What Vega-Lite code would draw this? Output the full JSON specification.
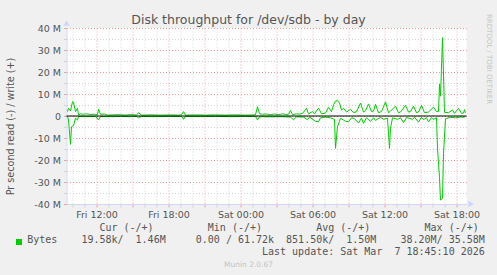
{
"$schema":"https://vega.github.io/schema/vega-lite/v6.json",
"width":400,"height":176,
"autosize":{"type":"none"},
"padding":{"left":66.5,"top":28,"right":30.5,"bottom":71},
"background":"#f0f0f0",
"view":{"fill":"#ffffff","stroke":null},
"config":{"font":"DejaVu Sans"},
"data":{"values":[
{"t":"2026-03-06T09:35","s":"w","v":2.0},{"t":"2026-03-06T09:40","s":"w","v":3.5},{"t":"2026-03-06T09:50","s":"w","v":2.3},{"t":"2026-03-06T10:00","s":"w","v":6.5},{"t":"2026-03-06T10:05","s":"w","v":6.2},{"t":"2026-03-06T10:15","s":"w","v":2.0},{"t":"2026-03-06T10:25","s":"w","v":3.5},{"t":"2026-03-06T10:30","s":"w","v":0.5},{"t":"2026-03-06T10:40","s":"w","v":1.0},{"t":"2026-03-06T10:55","s":"w","v":0.8},{"t":"2026-03-06T11:10","s":"w","v":1.0},{"t":"2026-03-06T11:30","s":"w","v":0.7},{"t":"2026-03-06T11:50","s":"w","v":0.8},{"t":"2026-03-06T12:05","s":"w","v":0.6},{"t":"2026-03-06T12:10","s":"w","v":3.0},{"t":"2026-03-06T12:20","s":"w","v":0.8},{"t":"2026-03-06T12:40","s":"w","v":0.9},{"t":"2026-03-06T12:55","s":"w","v":0.4},{"t":"2026-03-06T13:20","s":"w","v":0.5},{"t":"2026-03-06T13:50","s":"w","v":0.6},{"t":"2026-03-06T14:25","s":"w","v":0.4},{"t":"2026-03-06T14:55","s":"w","v":0.7},{"t":"2026-03-06T15:20","s":"w","v":0.4},{"t":"2026-03-06T15:30","s":"w","v":1.5},{"t":"2026-03-06T15:45","s":"w","v":0.4},{"t":"2026-03-06T16:30","s":"w","v":0.5},{"t":"2026-03-06T17:20","s":"w","v":0.4},{"t":"2026-03-06T18:10","s":"w","v":0.5},{"t":"2026-03-06T18:50","s":"w","v":0.4},{"t":"2026-03-06T19:05","s":"w","v":0.5},{"t":"2026-03-06T19:15","s":"w","v":2.0},{"t":"2026-03-06T19:25","s":"w","v":0.4},{"t":"2026-03-06T20:15","s":"w","v":0.5},{"t":"2026-03-06T21:05","s":"w","v":0.4},{"t":"2026-03-06T21:55","s":"w","v":0.5},{"t":"2026-03-06T22:45","s":"w","v":0.4},{"t":"2026-03-06T23:35","s":"w","v":0.5},
{"t":"2026-03-07T00:25","s":"w","v":0.4},{"t":"2026-03-07T01:05","s":"w","v":0.5},{"t":"2026-03-07T01:15","s":"w","v":0.6},{"t":"2026-03-07T01:25","s":"w","v":4.2},{"t":"2026-03-07T01:35","s":"w","v":1.0},{"t":"2026-03-07T01:50","s":"w","v":0.8},{"t":"2026-03-07T02:10","s":"w","v":0.9},{"t":"2026-03-07T02:30","s":"w","v":0.6},{"t":"2026-03-07T02:50","s":"w","v":0.9},{"t":"2026-03-07T03:10","s":"w","v":0.6},{"t":"2026-03-07T03:30","s":"w","v":1.0},{"t":"2026-03-07T03:45","s":"w","v":0.7},{"t":"2026-03-07T04:00","s":"w","v":0.8},{"t":"2026-03-07T04:10","s":"w","v":2.5},{"t":"2026-03-07T04:20","s":"w","v":0.6},{"t":"2026-03-07T04:40","s":"w","v":1.0},{"t":"2026-03-07T04:55","s":"w","v":0.8},{"t":"2026-03-07T05:10","s":"w","v":1.2},{"t":"2026-03-07T05:30","s":"w","v":3.5},{"t":"2026-03-07T05:40","s":"w","v":1.0},{"t":"2026-03-07T06:00","s":"w","v":2.0},{"t":"2026-03-07T06:10","s":"w","v":1.0},{"t":"2026-03-07T06:30","s":"w","v":3.6},{"t":"2026-03-07T06:45","s":"w","v":1.0},{"t":"2026-03-07T07:05","s":"w","v":1.3},{"t":"2026-03-07T07:20","s":"w","v":4.0},{"t":"2026-03-07T07:35","s":"w","v":2.0},{"t":"2026-03-07T07:45","s":"w","v":5.1},{"t":"2026-03-07T07:55","s":"w","v":6.8},{"t":"2026-03-07T08:05","s":"w","v":7.0},{"t":"2026-03-07T08:15","s":"w","v":5.9},{"t":"2026-03-07T08:25","s":"w","v":2.7},{"t":"2026-03-07T08:35","s":"w","v":3.5},{"t":"2026-03-07T08:50","s":"w","v":1.8},{"t":"2026-03-07T09:10","s":"w","v":3.0},{"t":"2026-03-07T09:25","s":"w","v":1.5},{"t":"2026-03-07T09:40","s":"w","v":2.0},{"t":"2026-03-07T10:00","s":"w","v":5.9},{"t":"2026-03-07T10:15","s":"w","v":1.8},{"t":"2026-03-07T10:25","s":"w","v":2.5},{"t":"2026-03-07T10:40","s":"w","v":5.5},{"t":"2026-03-07T10:55","s":"w","v":2.0},{"t":"2026-03-07T11:05","s":"w","v":2.2},{"t":"2026-03-07T11:15","s":"w","v":5.3},{"t":"2026-03-07T11:30","s":"w","v":1.5},{"t":"2026-03-07T11:45","s":"w","v":2.0},{"t":"2026-03-07T12:05","s":"w","v":6.4},{"t":"2026-03-07T12:20","s":"w","v":1.5},{"t":"2026-03-07T12:30","s":"w","v":2.2},{"t":"2026-03-07T12:55","s":"w","v":4.5},{"t":"2026-03-07T13:10","s":"w","v":1.5},{"t":"2026-03-07T13:20","s":"w","v":1.8},{"t":"2026-03-07T13:45","s":"w","v":4.8},{"t":"2026-03-07T14:00","s":"w","v":1.8},{"t":"2026-03-07T14:10","s":"w","v":2.0},{"t":"2026-03-07T14:25","s":"w","v":4.5},{"t":"2026-03-07T14:40","s":"w","v":1.5},{"t":"2026-03-07T14:50","s":"w","v":1.8},{"t":"2026-03-07T15:05","s":"w","v":4.8},{"t":"2026-03-07T15:20","s":"w","v":1.5},{"t":"2026-03-07T15:40","s":"w","v":1.8},{"t":"2026-03-07T16:05","s":"w","v":4.0},{"t":"2026-03-07T16:20","s":"w","v":2.0},{"t":"2026-03-07T16:30","s":"w","v":2.0},{"t":"2026-03-07T16:35","s":"w","v":14.4},{"t":"2026-03-07T16:40","s":"w","v":9.0},{"t":"2026-03-07T16:50","s":"w","v":35.58},{"t":"2026-03-07T17:00","s":"w","v":1.7},{"t":"2026-03-07T17:20","s":"w","v":1.5},{"t":"2026-03-07T17:40","s":"w","v":2.7},{"t":"2026-03-07T17:50","s":"w","v":1.2},{"t":"2026-03-07T18:10","s":"w","v":3.5},{"t":"2026-03-07T18:25","s":"w","v":1.2},{"t":"2026-03-07T18:35","s":"w","v":1.3},{"t":"2026-03-07T18:40","s":"w","v":2.9},{"t":"2026-03-07T18:45","s":"w","v":1.46},
{"t":"2026-03-06T09:35","s":"r","v":0},{"t":"2026-03-06T09:40","s":"r","v":-1.8},{"t":"2026-03-06T09:50","s":"r","v":-12.9},{"t":"2026-03-06T09:55","s":"r","v":-4.9},{"t":"2026-03-06T10:05","s":"r","v":-4.4},{"t":"2026-03-06T10:15","s":"r","v":-1.0},{"t":"2026-03-06T10:25","s":"r","v":-1.8},{"t":"2026-03-06T10:30","s":"r","v":-0.2},{"t":"2026-03-06T11:05","s":"r","v":-0.3},{"t":"2026-03-06T11:55","s":"r","v":-0.2},{"t":"2026-03-06T12:10","s":"r","v":-1.8},{"t":"2026-03-06T12:20","s":"r","v":-0.2},{"t":"2026-03-06T13:10","s":"r","v":-0.3},{"t":"2026-03-06T14:00","s":"r","v":-0.2},{"t":"2026-03-06T14:50","s":"r","v":-0.3},{"t":"2026-03-06T15:20","s":"r","v":-0.2},{"t":"2026-03-06T15:30","s":"r","v":-0.8},{"t":"2026-03-06T15:45","s":"r","v":-0.2},{"t":"2026-03-06T16:55","s":"r","v":-0.3},{"t":"2026-03-06T18:10","s":"r","v":-0.2},{"t":"2026-03-06T19:05","s":"r","v":-0.2},{"t":"2026-03-06T19:15","s":"r","v":-1.5},{"t":"2026-03-06T19:25","s":"r","v":-0.2},{"t":"2026-03-06T20:40","s":"r","v":-0.3},{"t":"2026-03-06T21:55","s":"r","v":-0.2},{"t":"2026-03-06T23:10","s":"r","v":-0.3},
{"t":"2026-03-07T00:25","s":"r","v":-0.2},{"t":"2026-03-07T01:15","s":"r","v":-0.2},{"t":"2026-03-07T01:25","s":"r","v":-1.8},{"t":"2026-03-07T01:35","s":"r","v":-0.3},{"t":"2026-03-07T02:30","s":"r","v":-0.4},{"t":"2026-03-07T03:20","s":"r","v":-0.3},{"t":"2026-03-07T04:10","s":"r","v":-0.5},{"t":"2026-03-07T04:25","s":"r","v":-1.7},{"t":"2026-03-07T04:40","s":"r","v":-0.4},{"t":"2026-03-07T05:15","s":"r","v":-0.5},{"t":"2026-03-07T05:35","s":"r","v":-1.7},{"t":"2026-03-07T05:45","s":"r","v":-0.5},{"t":"2026-03-07T06:15","s":"r","v":-2.4},{"t":"2026-03-07T06:30","s":"r","v":-2.6},{"t":"2026-03-07T06:40","s":"r","v":-0.8},{"t":"2026-03-07T07:05","s":"r","v":-0.6},{"t":"2026-03-07T07:30","s":"r","v":-0.8},{"t":"2026-03-07T07:50","s":"r","v":-1.5},{"t":"2026-03-07T07:55","s":"r","v":-14.7},{"t":"2026-03-07T08:05","s":"r","v":-4.8},{"t":"2026-03-07T08:10","s":"r","v":-3.6},{"t":"2026-03-07T08:20","s":"r","v":-1.0},{"t":"2026-03-07T08:45","s":"r","v":-2.4},{"t":"2026-03-07T09:00","s":"r","v":-2.6},{"t":"2026-03-07T09:15","s":"r","v":-0.8},{"t":"2026-03-07T09:30","s":"r","v":-1.2},{"t":"2026-03-07T09:50","s":"r","v":-3.2},{"t":"2026-03-07T10:05","s":"r","v":-1.0},{"t":"2026-03-07T10:15","s":"r","v":-3.3},{"t":"2026-03-07T10:30","s":"r","v":-0.8},{"t":"2026-03-07T10:50","s":"r","v":-2.5},{"t":"2026-03-07T11:05","s":"r","v":-0.8},{"t":"2026-03-07T11:15","s":"r","v":-2.0},{"t":"2026-03-07T11:40","s":"r","v":-0.6},{"t":"2026-03-07T11:55","s":"r","v":-1.5},{"t":"2026-03-07T12:15","s":"r","v":-1.0},{"t":"2026-03-07T12:25","s":"r","v":-14.7},{"t":"2026-03-07T12:30","s":"r","v":-5.6},{"t":"2026-03-07T12:40","s":"r","v":-0.8},{"t":"2026-03-07T13:05","s":"r","v":-1.5},{"t":"2026-03-07T13:20","s":"r","v":-0.8},{"t":"2026-03-07T13:35","s":"r","v":-3.0},{"t":"2026-03-07T13:50","s":"r","v":-0.7},{"t":"2026-03-07T14:20","s":"r","v":-1.5},{"t":"2026-03-07T14:30","s":"r","v":-0.6},{"t":"2026-03-07T14:50","s":"r","v":-2.8},{"t":"2026-03-07T15:05","s":"r","v":-0.6},{"t":"2026-03-07T15:15","s":"r","v":-1.6},{"t":"2026-03-07T15:30","s":"r","v":-0.8},{"t":"2026-03-07T15:40","s":"r","v":-2.7},{"t":"2026-03-07T15:55","s":"r","v":-0.7},{"t":"2026-03-07T16:05","s":"r","v":-1.5},{"t":"2026-03-07T16:20","s":"r","v":-0.8},{"t":"2026-03-07T16:25","s":"r","v":-14.7},{"t":"2026-03-07T16:35","s":"r","v":-28},{"t":"2026-03-07T16:40","s":"r","v":-38.2},{"t":"2026-03-07T16:50","s":"r","v":-37.4},{"t":"2026-03-07T16:55","s":"r","v":-17},{"t":"2026-03-07T17:05","s":"r","v":-1.2},{"t":"2026-03-07T17:30","s":"r","v":-0.6},{"t":"2026-03-07T17:55","s":"r","v":-0.8},{"t":"2026-03-07T18:20","s":"r","v":-0.5},{"t":"2026-03-07T18:40","s":"r","v":-0.5},{"t":"2026-03-07T18:45","s":"r","v":-0.02}
]},
"layer":[
{"mark":{"type":"line","strokeWidth":1},
 "encoding":{
  "x":{"field":"t","type":"temporal","scale":{"domain":[{"year":2026,"month":3,"date":6,"hours":9,"minutes":30},{"year":2026,"month":3,"date":7,"hours":18,"minutes":50}]},
   "axis":{"orient":"bottom","tickCount":34,"grid":true,
    "gridColor":{"condition":{"test":"hours(datum.value) % 3 === 0","value":"#f2a0a0"},"value":"#d2d2d2"},
    "gridDash":[1,2],"gridWidth":1,
    "tickColor":{"condition":{"test":"hours(datum.value) % 3 === 0","value":"#f2a0a0"},"value":"#d2d2d2"},
    "tickSize":3,"domainColor":"#cfd6f8","domainWidth":1,
    "labelExpr":"hours(datum.value) % 6 === 0 ? timeFormat(datum.value, '%a %H:%M') : ''",
    "labelFont":"DejaVu Sans","labelFontSize":9.5,"labelColor":"#555555","labelPadding":2,"labelOverlap":false,"labelFlush":false,"labelBound":false,
    "title":["\u200b\u00a0\u00a0\u00a0\u00a0\u00a0\u00a0\u00a0\u00a0\u00a0\u00a0\u00a0\u00a0Cur\u00a0(-/+)\u00a0\u00a0\u00a0\u00a0\u00a0\u00a0\u00a0\u00a0\u00a0Min\u00a0(-/+)\u00a0\u00a0\u00a0\u00a0\u00a0\u00a0\u00a0\u00a0\u00a0Avg\u00a0(-/+)\u00a0\u00a0\u00a0\u00a0\u00a0\u00a0\u00a0\u00a0\u00a0Max\u00a0(-/+)",
             "Bytes\u00a0\u00a0\u00a0\u00a019.58k/\u00a0\u00a01.46M\u00a0\u00a0\u00a0\u00a0\u00a00.00\u00a0/\u00a061.72k\u00a0\u00a0851.50k/\u00a0\u00a01.50M\u00a0\u00a0\u00a0\u00a038.20M/\u00a035.58M",
             "\u200b\u00a0\u00a0\u00a0\u00a0\u00a0\u00a0\u00a0\u00a0\u00a0\u00a0\u00a0\u00a0\u00a0\u00a0\u00a0\u00a0\u00a0\u00a0\u00a0\u00a0\u00a0\u00a0\u00a0\u00a0\u00a0\u00a0\u00a0\u00a0\u00a0\u00a0\u00a0\u00a0\u00a0\u00a0\u00a0\u00a0\u00a0\u00a0\u00a0Last\u00a0update:\u00a0Sat\u00a0Mar\u00a0\u00a07\u00a018:45:10\u00a02026"],
    "titleFont":"DejaVu Sans Mono","titleFontSize":10,"titleFontWeight":"normal","titleColor":"#555555",
    "titleX":-39.8,"titleY":26.5,"titleAlign":"left","titleBaseline":"alphabetic","titleLineHeight":12}},
  "y":{"field":"v","type":"quantitative","scale":{"domain":[-40,40],"nice":false,"zero":false},
   "axis":{"orient":"left","values":[-40,-35,-30,-25,-20,-15,-10,-5,0,5,10,15,20,25,30,35,40],"grid":true,
    "gridColor":{"condition":{"test":"datum.value % 10 === 0","value":"#f2a0a0"},"value":"#d2d2d2"},
    "gridDash":[1,2],"gridWidth":1,
    "tickColor":{"condition":{"test":"datum.value % 10 === 0","value":"#f2a0a0"},"value":"#d2d2d2"},
    "tickSize":3,"domainColor":"#cfd6f8","domainWidth":1,
    "labelExpr":"datum.value % 10 === 0 ? (datum.value === 0 ? '0' : datum.value + ' M') : ''",
    "labelFont":"DejaVu Sans","labelFontSize":9.5,"labelColor":"#555555","labelPadding":3,"labelOverlap":false,"labelBound":false,
    "title":"Pr second read (-) / write (+)","titleFont":"DejaVu Sans","titleFontSize":9.6,"titleFontWeight":"normal","titleColor":"#555555",
    "titleX":-56,"titleY":98,"titleAngle":-90,"titleAlign":"center","titleBaseline":"middle"}},
  "detail":{"field":"s"},
  "color":{"datum":"Bytes","scale":{"range":["#00cc00"]},
   "legend":{"orient":"none","legendX":-52.5,"legendY":209,"title":null,"padding":0,"symbolType":"square","symbolSize":36,"labelExpr":"''",
    "encode":{"symbols":{"update":{"fill":{"value":"#00cc00"},"fillOpacity":{"value":1},"stroke":{"value":"#00cc00"},"strokeWidth":{"value":0},"shape":{"value":"square"},"size":{"value":36},"opacity":{"value":1}}}}}}
 }},
{"data":{"values":[{}]},"mark":{"type":"rule","color":"#000000","strokeWidth":1},"encoding":{"y":{"datum":0,"axis":null}}},
{"data":{"values":[{}]},"mark":{"type":"point","shape":"triangle-right","filled":true,"color":"#cfd6f8","size":40,"opacity":1},
 "encoding":{
  "x":{"datum":{"year":2026,"month":3,"date":7,"hours":19,"minutes":12,"seconds":30},"type":"temporal",
   "axis":{"orient":"top","domain":false,"ticks":false,"labels":false,"grid":false,"title":"Disk throughput for /dev/sdb - by day","titleFont":"DejaVu Sans","titleFontSize":12.5,"titleFontWeight":"normal","titleColor":"#555555","titleX":181.5,"titleY":-4.5,"titleAlign":"center","titleBaseline":"alphabetic","titleAngle":0}},
  "y":{"datum":-40,
   "axis":{"orient":"right","domain":false,"ticks":false,"labels":false,"grid":false,"title":"RRDTOOL / TOBI OETIKER","titleFont":"DejaVu Sans","titleFontSize":7,"titleFontWeight":"normal","titleColor":"#c4c4c4","titleX":21.5,"titleY":30.5,"titleAngle":90,"titleAlign":"center","titleBaseline":"middle"}}}},
{"data":{"values":[{}]},"mark":{"type":"point","shape":"triangle-up","filled":true,"color":"#cfd6f8","size":40,"opacity":1},
 "encoding":{
  "x":{"datum":{"year":2026,"month":3,"date":6,"hours":9,"minutes":30},"type":"temporal",
   "axis":{"orient":"bottom","domain":false,"ticks":false,"labels":false,"grid":false,"title":"Munin 2.0.67","titleFont":"DejaVu Sans","titleFontSize":7.5,"titleFontWeight":"normal","titleColor":"#c4c4c4","titleX":181.5,"titleY":60,"titleAlign":"center","titleBaseline":"middle","titleAngle":0}},
  "y":{"datum":42.3,"axis":null}}}
],
"resolve":{"axis":{"x":"independent","y":"independent"}}
}
